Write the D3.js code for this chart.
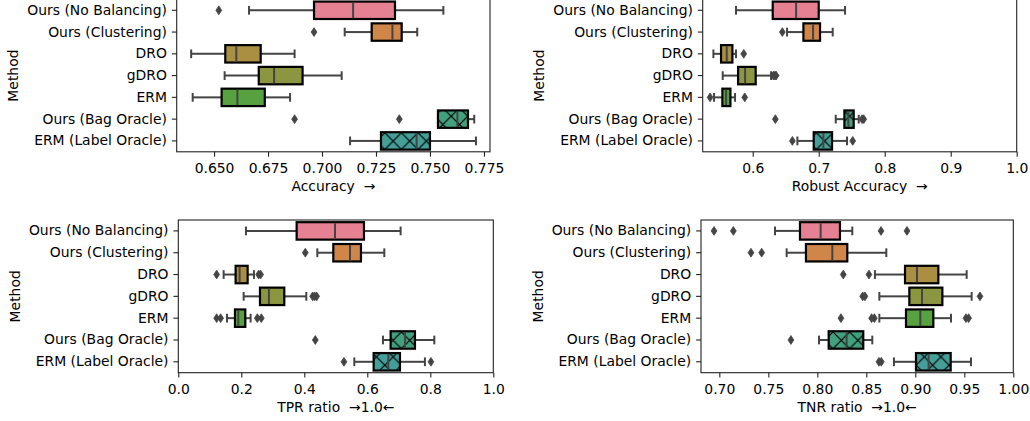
<!DOCTYPE html>
<html><head><meta charset="utf-8">
<script src="https://cdn.jsdelivr.net/npm/d3@7"></script>
<style>body{margin:0;background:#fff}svg text{font-family:"DejaVu Sans",sans-serif;}</style>
</head><body><svg id="c" width="1030" height="421"></svg>
<script>
// ---- data ----
const methods = ["Ours (No Balancing)","Ours (Clustering)","DRO","gDRO","ERM","Ours (Bag Oracle)","ERM (Label Oracle)"];
const oracle = [false,false,false,false,false,true,true];
// [whisker low, Q1, median, Q3, whisker high]
const accuracyStats = [[0.6662,0.6963,0.7144,0.7338,0.7562],[0.7105,0.7230,0.7326,0.7369,0.7441],[0.6394,0.6552,0.6603,0.6716,0.6873],[0.6549,0.6707,0.6778,0.6910,0.7091],[0.6401,0.6535,0.6608,0.6735,0.6852],[0.7537,0.7537,0.7627,0.7676,0.7705],[0.7130,0.7273,0.7438,0.7500,0.7713]];
const accuracyOutliers = [[0.6522],[0.6963],[],[],[],[0.6873,0.7358],[]];
const robustStats = [[0.5747,0.6303,0.6657,0.7000,0.7399],[0.6520,0.6768,0.6914,0.7020,0.7212],[0.5404,0.5520,0.5606,0.5692,0.5747],[0.5545,0.5778,0.5884,0.6045,0.6278],[0.5414,0.5540,0.5596,0.5662,0.5732],[0.7258,0.7389,0.7449,0.7530,0.7606],[0.6677,0.6924,0.7071,0.7202,0.7429]];
const robustOutliers = [[],[0.6449],[0.5864],[0.6313,0.6338,0.6354],[0.5354,0.5879],[0.6343,0.7657,0.7682],[0.6601,0.7515]];
const tprStats = [[0.2148,0.3757,0.4974,0.5894,0.7058],[0.4413,0.4921,0.5450,0.5799,0.6540],[0.1439,0.1820,0.1947,0.2201,0.2402],[0.2074,0.2593,0.2878,0.3365,0.4063],[0.1545,0.1799,0.1905,0.2127,0.2296],[0.6497,0.6741,0.7196,0.7513,0.8127],[0.5587,0.6201,0.6667,0.7037,0.7830]];
const tprOutliers = [[],[0.4032],[0.1217,0.2550,0.2614],[0.4265,0.4328,0.4392],[0.1217,0.1344,0.2508,0.2635],[0.4349],[0.5259,0.8020]];
const tnrStats = [[0.7568,0.7823,0.8034,0.8231,0.8357],[0.7687,0.7884,0.8153,0.8306,0.8704],[0.8588,0.8895,0.9017,0.9235,0.9524],[0.8633,0.8939,0.9068,0.9276,0.9575],[0.8633,0.8905,0.9051,0.9184,0.9364],[0.8017,0.8116,0.8299,0.8469,0.8561],[0.8782,0.9007,0.9136,0.9361,0.9568]];
const tnrOutliers = [[0.6946,0.7143,0.8650,0.8915],[0.7323,0.7432],[0.8265,0.8527],[0.8463,0.8486,0.9660],[0.8241,0.8554,0.8582,0.9517,0.9544],[0.7731],[0.8629,0.8653]];
const accuracyTicks = [0.650,0.675,0.700,0.725,0.750,0.775];
const robustTicks = [0.6,0.7,0.8,0.9,1.0];
const tprTicks = [0.0,0.2,0.4,0.6,0.8,1.0];
const tnrTicks = [0.70,0.75,0.80,0.85,0.90,0.95,1.00];

// ---- seaborn-like husl palette ----
function hsluvToRgb(h,s,l){
  const M=[[3.240969941904521,-1.537383177570093,-0.498610760293],[-0.96924363628087,1.87596750150772,0.041555057407175],[0.055630079696993,-0.20397695888897,1.056971514242878]];
  const kappa=903.2962962, eps=0.0088564516;
  const sub1=Math.pow(l+16,3)/1560896, sub2=sub1>eps?sub1:l/kappa;
  const hr=h/360*2*Math.PI; let minLen=Infinity;
  for(const [m1,m2,m3] of M) for(const t of [0,1]){
    const top1=(284517*m1-94839*m3)*sub2;
    const top2=(838422*m3+769860*m2+731718*m1)*l*sub2-769860*t*l;
    const bottom=(632260*m3-126452*m2)*sub2+126452*t;
    const len=(top2/bottom)/(Math.sin(hr)-(top1/bottom)*Math.cos(hr));
    if(len>=0) minLen=Math.min(minLen,len);
  }
  const C=minLen/100*s, U=C*Math.cos(hr), V=C*Math.sin(hr);
  const refU=0.19783000664283, refV=0.46831999493879;
  const vu=U/(13*l)+refU, vv=V/(13*l)+refV;
  const Y=l<=8?l/kappa:Math.pow((l+16)/116,3);
  const X=-(9*Y*vu)/((vu-4)*vv-vu*vv);
  const Z=(9*Y-15*vv*Y-vv*X)/(3*vv);
  return M.map(r=>{const c=r[0]*X+r[1]*Y+r[2]*Z;const v=c<=0.0031308?12.92*c:1.055*Math.pow(c,1/2.4)-0.055;return Math.max(0,Math.min(1,v));});
}
const nPal=12;
const colors = methods.map((m,i)=>{
  const h=((i/nPal)+0.01)%1*359;
  const rgb=hsluvToRgb(h,0.9*99,0.65*99);
  const c=d3.hsl(d3.rgb(rgb[0]*255,rgb[1]*255,rgb[2]*255));
  c.s*=0.75; return c.formatHex();
});

const svg=d3.select("#c");
svg.append("rect").attr("width",1030).attr("height",421).attr("fill","#fff");
const defs=svg.append("defs");
const P=16.6;
const pat=defs.append("pattern").attr("id","hx").attr("patternUnits","userSpaceOnUse").attr("width",P).attr("height",P).attr("x",3);
pat.append("path").attr("d",`M0,0L${P},${P}M0,${P}L${P},0M-2,2L2,-2M${P-2},${P+2}L${P+2},${P-2}M-2,${P-2}L2,${P+2}M${P-2},-2L${P+2},2`).attr("stroke","#000").attr("stroke-width",1.2).attr("fill","none");

const FS=13.9, GRAY="#444";
const NB="\u00a0";
const panels=[
 {l:176.7,r:490,t:-0.6,b:151.8,dom:[0.6327,0.7778],ticks:accuracyTicks,fmt:".3f",label:"Accuracy"+NB+NB+"\u2192",stats:accuracyStats,out:accuracyOutliers},
 {l:702.7,r:1016.7,t:-0.6,b:151.8,dom:[0.5242,1.0],ticks:robustTicks,fmt:".1f",label:"Robust Accuracy"+NB+NB+"\u2192",stats:robustStats,out:robustOutliers},
 {l:178.3,r:493.3,t:220,b:372.7,dom:[0,1],ticks:tprTicks,fmt:".1f",label:"TPR ratio"+NB+NB+"\u21921.0\u2190",stats:tprStats,out:tprOutliers},
 {l:701,r:1013.3,t:220,b:372.7,dom:[0.6813,1.0],ticks:tnrTicks,fmt:".2f",label:"TNR ratio"+NB+NB+"\u21921.0\u2190",stats:tnrStats,out:tnrOutliers}
];

panels.forEach(p=>{
  const g=svg.append("g");
  const x=d3.scaleLinear().domain(p.dom).range([p.l,p.r]);
  const y=d3.scaleBand().domain(methods).range([p.t,p.b]).paddingInner(0).paddingOuter(0);
  const bw=y.bandwidth(), bh=bw*0.8, ch=bw*0.4;
  methods.forEach((m,i)=>{
    const s=p.stats[i], cy=y(m)+bw/2;
    const gg=g.append("g");
    gg.append("line").attr("x1",x(s[0])).attr("x2",x(s[1])).attr("y1",cy).attr("y2",cy).attr("stroke",GRAY).attr("stroke-width",2);
    gg.append("line").attr("x1",x(s[3])).attr("x2",x(s[4])).attr("y1",cy).attr("y2",cy).attr("stroke",GRAY).attr("stroke-width",2);
    [s[0],s[4]].forEach(v=>gg.append("line").attr("x1",x(v)).attr("x2",x(v)).attr("y1",cy-ch/2).attr("y2",cy+ch/2).attr("stroke",GRAY).attr("stroke-width",2));
    gg.append("rect").attr("x",x(s[1])).attr("y",cy-bh/2).attr("width",x(s[3])-x(s[1])).attr("height",bh).attr("fill",colors[i]);
    if(oracle[i]) gg.append("rect").attr("x",x(s[1])).attr("y",cy-bh/2).attr("width",x(s[3])-x(s[1])).attr("height",bh).attr("fill","url(#hx)");
    gg.append("rect").attr("x",x(s[1])).attr("y",cy-bh/2).attr("width",x(s[3])-x(s[1])).attr("height",bh).attr("fill","none").attr("stroke","#000").attr("stroke-width",2.2);
    gg.append("line").attr("x1",x(s[2])).attr("x2",x(s[2])).attr("y1",cy-bh/2+1).attr("y2",cy+bh/2-1).attr("stroke",GRAY).attr("stroke-width",2);
    p.out[i].forEach(v=>gg.append("path").attr("d","M0,-4.4L2.9,0L0,4.4L-2.9,0Z").attr("transform",`translate(${x(v)},${cy})`).attr("fill",GRAY).attr("stroke",GRAY).attr("stroke-width",0.8));
  });
  g.append("rect").attr("x",p.l).attr("y",p.t).attr("width",p.r-p.l).attr("height",p.b-p.t).attr("fill","none").attr("stroke","#222").attr("stroke-width",1.1);
  const xa=g.append("g").attr("transform",`translate(0,${p.b})`).call(d3.axisBottom(x).tickValues(p.ticks).tickFormat(d3.format(p.fmt)).tickSize(4.9).tickPadding(4.9));
  xa.select(".domain").remove();
  xa.selectAll("line").attr("stroke","#222").attr("stroke-width",1.1);
  xa.selectAll("text").attr("font-size",FS).attr("fill","#000").attr("font-family","DejaVu Sans").attr("dy",null).attr("y",null).attr("transform","translate(0,21)");
  const ya=g.append("g").attr("transform",`translate(${p.l},0)`).call(d3.axisLeft(y).tickSize(4.9).tickPadding(4.9));
  ya.select(".domain").remove();
  ya.selectAll("line").attr("stroke","#222").attr("stroke-width",1.1);
  ya.selectAll("text").attr("font-size",FS).attr("fill","#000").attr("font-family","DejaVu Sans");
  let maxW=0; ya.selectAll("text").each(function(){maxW=Math.max(maxW,this.getComputedTextLength());});
  g.append("text").attr("x",(p.l+p.r)/2).attr("y",p.b+39.5).attr("text-anchor","middle").attr("font-size",FS).text(p.label);
  const mx=p.l-9.8-maxW-13.7;
  g.append("text").attr("transform",`translate(${mx},${(p.t+p.b)/2}) rotate(-90)`).attr("text-anchor","middle").attr("dy","0.35em").attr("font-size",FS).text("Method");
});
</script></body></html>
